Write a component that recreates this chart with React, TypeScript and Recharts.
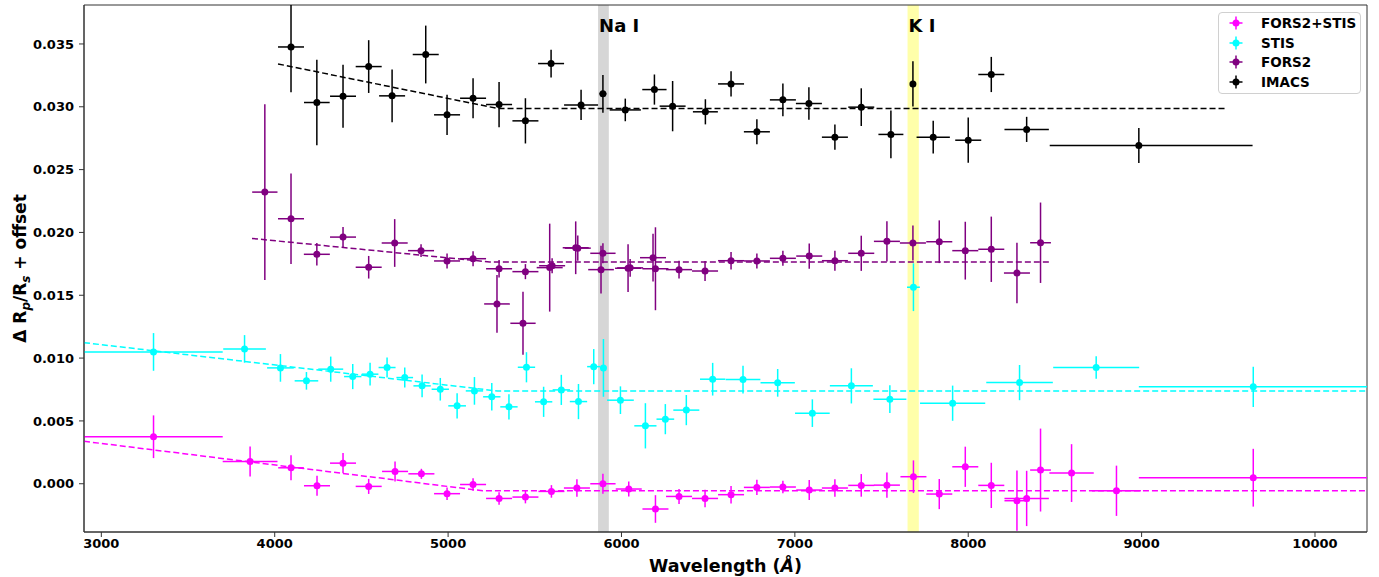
import React from 'react';
import { ComposedChart, Scatter, Line, XAxis, YAxis, ErrorBar, ReferenceArea, Legend } from 'recharts';

type Err = number | [number, number];

// Axis ticks / domains
const xTicks = [3000, 4000, 5000, 6000, 7000, 8000, 9000, 10000];
const yTicks = [0, 0.005, 0.01, 0.015, 0.02, 0.025, 0.03, 0.035];
const xDomain: [number, number] = [2900, 10300];
const yDomain: [number, number] = [-0.00384, 0.0381];

// Highlighted lines
const naBand = [5865, 5927];
const kBand = [7650, 7715];

// FORS2+STIS
const fsWl = [3301, 3858, 4094, 4244, 4394, 4542, 4694, 4846, 4994, 5144, 5294, 5446, 5596, 5743, 5893, 6042, 6196, 6332, 6482, 6632, 6781, 6931, 7083, 7231, 7383, 7531, 7684, 7833, 7983, 8133, 8281, 8337, 8417, 8596, 8855, 9644];
const fsVal = [0.00374, 0.00177, 0.00127, -0.00016, 0.00164, -0.00021, 0.00098, 0.00079, -0.00079, -0.00006, -0.00117, -0.00106, -0.00061, -0.00034, 0.0, -0.00042, -0.00201, -0.00101, -0.00117, -0.00087, -0.00029, -0.00026, -0.0005, -0.00034, -0.00013, -0.00011, 0.00056, -0.00082, 0.00135, -0.00013, -0.00135, -0.00117, 0.00109, 0.00085, -0.00056, 0.00048];
const fsXErr: Err[] = [[401, 399], 158, 74, 75, 75, 75, 75, 75, 75, 75, 75, 75, 75, 75, 73, 75, 75, 75, 75, 75, 75, 75, 75, 75, 75, 75, 75, 75, 75, 75, 72, 128, 60, 128, 141, [660, 656]];
const fsYErr: Err[] = [0.0017, 0.0012, 0.001, 0.0008, 0.0008, 0.0006, 0.0008, 0.0004, 0.0005, 0.0005, 0.0005, 0.0005, 0.0005, 0.0007, 0.0008, 0.0006, 0.0011, 0.0006, 0.0007, 0.0007, 0.0006, 0.0005, 0.0008, 0.0007, 0.0009, 0.001, 0.0013, 0.0012, 0.0016, 0.0018, [0.0024, 0.0024], 0.0022, 0.0033, 0.0023, 0.002, 0.0023];

// STIS
const stWl = [3301, 3826, 4033, 4183, 4323, 4450, 4550, 4648, 4750, 4850, 4955, 5052, 5152, 5252, 5351, 5452, 5551, 5653, 5752, 5840, 5896, 5994, 6138, 6253, 6374, 6526, 6701, 6901, 7101, 7326, 7548, 7684, 7910, 8296, 8738, 9644];
const stVal = [0.01049, 0.01073, 0.00922, 0.00819, 0.00912, 0.00853, 0.00872, 0.00925, 0.00845, 0.00779, 0.00752, 0.0062, 0.00739, 0.00692, 0.00612, 0.00927, 0.00652, 0.00747, 0.00654, 0.00932, 0.00922, 0.00665, 0.00461, 0.00514, 0.00586, 0.00832, 0.00829, 0.00803, 0.00562, 0.00779, 0.00673, 0.01564, 0.00641, 0.00805, 0.00925, 0.00771];
const stXErr: Err[] = [[401, 399], 123, 77, 68, 72, 50, 48, 49, 48, 50, 50, 51, 50, 50, 50, 50, 50, 50, 50, 38, 15, 77, 64, 51, 75, 73, 100, 99, 100, 124, 95, 37, 188, 192, 248, [660, 656]];
const stYErr: Err[] = [0.0015, 0.0011, 0.0011, 0.0007, 0.001, 0.001, 0.0009, 0.0008, 0.0008, 0.0009, 0.0009, 0.001, 0.0011, 0.0011, 0.001, 0.0012, 0.0012, 0.0012, 0.0014, 0.0014, 0.0023, 0.0011, 0.0018, 0.0012, 0.0012, 0.0013, 0.0011, 0.0011, 0.0011, 0.0014, 0.0011, 0.0019, 0.0014, 0.0014, 0.0009, 0.0016];

// FORS2
const f2Wl = [3943, 4094, 4243, 4394, 4542, 4692, 4844, 4994, 5144, 5282, 5294, 5432, 5446, 5586, 5600, 5736, 5748, 5882, 5893, 6038, 6050, 6182, 6196, 6332, 6482, 6632, 6781, 6931, 7083, 7231, 7383, 7531, 7681, 7833, 7983, 8133, 8281, 8417];
const f2Val = [0.02321, 0.02109, 0.01826, 0.01963, 0.01723, 0.01916, 0.01855, 0.01773, 0.01791, 0.01431, 0.01711, 0.01277, 0.01688, 0.0172, 0.01735, 0.01878, 0.01875, 0.01704, 0.01834, 0.01715, 0.01718, 0.01799, 0.01711, 0.01704, 0.01693, 0.01775, 0.01773, 0.01794, 0.01812, 0.01775, 0.01834, 0.01929, 0.01916, 0.01926, 0.01855, 0.01866, 0.01677, 0.01918];
const f2XErr: Err[] = [73, 75, 75, 75, 75, 75, 75, 75, 75, 74, 75, 73, 75, 75, 75, 75, 75, 74, 73, 75, 75, 75, 75, 75, 75, 75, 75, 75, 75, 75, 75, 75, 75, 75, 75, 75, 75, 60];
const f2YErr: Err[] = [0.007, 0.0036, 0.0009, 0.0008, 0.0009, 0.0019, 0.0005, 0.0006, 0.0006, 0.0023, 0.0007, 0.0025, 0.0006, 0.0035, 0.0006, 0.0021, 0.001, 0.0019, 0.0008, 0.0019, 0.0007, 0.0019, 0.0033, 0.0007, 0.0008, 0.0007, 0.0006, 0.0006, 0.001, 0.0008, 0.0014, 0.0016, 0.0014, 0.0017, 0.0023, 0.0026, 0.0024, 0.0032];

// IMACS
const imWl = [4094, 4243, 4394, 4542, 4677, 4871, 4994, 5144, 5294, 5446, 5594, 5767, 5893, 6022, 6190, 6295, 6484, 6632, 6781, 6931, 7081, 7231, 7383, 7554, 7681, 7798, 8000, 8133, 8337, 8984];
const imVal = [0.03476, 0.03034, 0.03084, 0.0332, 0.03087, 0.03416, 0.02936, 0.03068, 0.03018, 0.02888, 0.03344, 0.03015, 0.03103, 0.02975, 0.03137, 0.03005, 0.0296, 0.03182, 0.02801, 0.03055, 0.03026, 0.02758, 0.02997, 0.0278, 0.03182, 0.02758, 0.02734, 0.03257, 0.0282, 0.02692];
const imXErr: Err[] = [75, 74, 75, 75, 75, 75, 75, 75, 75, 75, 75, 98, 20, 90, 70, 75, 72, 75, 75, 75, 75, 75, 75, 72, 15, 96, 75, 75, 128, [514, 656]];
const imYErr: Err[] = [[0.0036, 0.00334], 0.0034, 0.0025, 0.0021, 0.0021, 0.0023, 0.0016, 0.0016, 0.0018, 0.0018, 0.0011, 0.0012, 0.0015, 0.0009, 0.0012, 0.002, 0.001, 0.001, 0.001, 0.0013, 0.0013, 0.001, 0.0015, 0.0019, 0.0018, 0.0013, 0.0018, 0.0014, 0.001, 0.0014];

// Model fits (dashed)
const fitFsWl = [2900, 5200, 10300];
const fitFsVal = [0.00338, -0.00056, -0.00056];
const fitStWl = [2900, 5285, 10300];
const fitStVal = [0.01123, 0.00738, 0.00738];
const fitF2Wl = [3869, 5240, 8477];
const fitF2Val = [0.01952, 0.01765, 0.01765];
const fitImWl = [4019, 5287, 9494];
const fitImVal = [0.03341, 0.02986, 0.02986];

const build = (wl: number[], val: number[], xe: Err[], ye: Err[]) =>
  wl.map((x, i) => ({ x, y: val[i], ex: xe[i], ey: ye[i] }));
const buildFit = (wl: number[], val: number[]) => wl.map((x, i) => ({ x, y: val[i] }));

const series = [
  { name: 'FORS2+STIS', color: '#ff00ff', data: build(fsWl, fsVal, fsXErr, fsYErr), fit: buildFit(fitFsWl, fitFsVal) },
  { name: 'STIS', color: '#00ffff', data: build(stWl, stVal, stXErr, stYErr), fit: buildFit(fitStWl, fitStVal) },
  { name: 'FORS2', color: '#800080', data: build(f2Wl, f2Val, f2XErr, f2YErr), fit: buildFit(fitF2Wl, fitF2Val) },
  { name: 'IMACS', color: '#000000', data: build(imWl, imVal, imXErr, imYErr), fit: buildFit(fitImWl, fitImVal) },
];

const FONT = 'DejaVu Sans, Verdana, sans-serif';
const AXIS = '#333333';

const LegendBox = () => (
  <div
    style={{
      width: 143,
      height: 82,
      boxSizing: 'border-box',
      border: '1px solid #d0d0d0',
      borderRadius: 4,
      background: 'rgba(255,255,255,0.85)',
      fontFamily: FONT,
      fontWeight: 'bold',
      fontSize: 13.5,
      color: '#000',
    }}
  >
    {series.map((s) => (
      <div key={s.name} style={{ height: 19.8, display: 'flex', alignItems: 'center' }}>
        <svg width={35} height={16} style={{ display: 'block' }}>
          <line x1={10.5} x2={23.5} y1={8} y2={8} stroke={s.color} strokeWidth={1.5} />
          <line x1={17} x2={17} y1={1.5} y2={14.5} stroke={s.color} strokeWidth={1.5} />
          <circle cx={17} cy={8} r={3.5} fill={s.color} />
        </svg>
        <span style={{ marginLeft: 7, lineHeight: '16px' }}>{s.name}</span>
      </div>
    ))}
  </div>
);

const bandLabel = (text: string) => (props: any) => {
  const vb = props.viewBox || {};
  return (
    <text x={(vb.x || 0) + 1} y={(vb.y || 0) + 27} fontFamily={FONT} fontWeight="bold" fontSize={18} fill="#000">
      {text}
    </text>
  );
};

const YLabel = (props: any) => {
  const vb = props.viewBox || { x: 0, y: 0, width: 0, height: 0 };
  const cx = vb.x + 26;
  const cy = vb.y + vb.height / 2;
  return (
    <text
      x={cx}
      y={cy}
      transform={`rotate(-90, ${cx}, ${cy})`}
      textAnchor="middle"
      fontFamily={FONT}
      fontWeight="bold"
      fontSize={17}
      fill="#000"
    >
      <tspan>{'Δ R'}</tspan>
      <tspan fontSize={12} fontStyle="italic" dy={4}>p</tspan>
      <tspan dy={-4}>{'/R'}</tspan>
      <tspan fontSize={12} fontStyle="italic" dy={4}>s</tspan>
      <tspan dy={-4}>{' + offset'}</tspan>
    </text>
  );
};

const XLabel = (props: any) => {
  const vb = props.viewBox || { x: 0, y: 0, width: 0, height: 0 };
  return (
    <text
      x={vb.x + vb.width / 2}
      y={vb.y + 40}
      textAnchor="middle"
      fontFamily={FONT}
      fontWeight="bold"
      fontSize={17.5}
      fill="#000"
    >
      <tspan>{'Wavelength ('}</tspan>
      <tspan fontStyle="italic">Å</tspan>
      <tspan>{')'}</tspan>
    </text>
  );
};

export default function App() {
  return (
    <div style={{ position: 'absolute', left: 0, top: 0, width: 1379, height: 577, background: '#fff', fontFamily: FONT }}>
      <ComposedChart width={1379} height={577} margin={{ top: 5, right: 12, left: 0, bottom: 0 }}>
        <XAxis
          type="number"
          dataKey="x"
          domain={xDomain}
          allowDataOverflow
          ticks={xTicks}
          height={45}
          tickSize={5}
          tickMargin={2}
          stroke={AXIS}
          tick={{ fill: '#000', fontSize: 13, fontWeight: 'bold', fontFamily: FONT }}
          tickLine={{ stroke: AXIS }}
          axisLine={{ stroke: AXIS }}
          label={{ content: XLabel }}
        />
        <YAxis
          type="number"
          dataKey="y"
          domain={yDomain}
          allowDataOverflow
          ticks={yTicks}
          width={84}
          tickSize={5}
          tickMargin={5}
          stroke={AXIS}
          tickFormatter={(v: number) => v.toFixed(3)}
          tick={{ fill: '#000', fontSize: 13, fontWeight: 'bold', fontFamily: FONT }}
          tickLine={{ stroke: AXIS }}
          axisLine={{ stroke: AXIS }}
          label={{ content: YLabel }}
        />
        <ReferenceArea x1={naBand[0]} x2={naBand[1]} y1={yDomain[0]} y2={yDomain[1]} fill="#d6d6d6" fillOpacity={1} stroke="none" label={{ content: bandLabel('Na I') }} />
        <ReferenceArea x1={kBand[0]} x2={kBand[1]} y1={yDomain[0]} y2={yDomain[1]} fill="#ffffaa" fillOpacity={1} stroke="none" label={{ content: bandLabel('K I') }} />
        {series.map((s) => (
          <Line
            key={s.name + '-fit'}
            data={s.fit}
            dataKey="y"
            type="linear"
            stroke={s.color}
            strokeWidth={1.5}
            strokeDasharray="6 3"
            dot={false}
            activeDot={false}
            isAnimationActive={false}
            legendType="none"
          />
        ))}
        {series.map((s) => (
          <Scatter
            key={s.name}
            name={s.name}
            data={s.data}
            dataKey="y"
            fill={s.color}
            isAnimationActive={false}
            shape={(p: any) => <circle cx={p.cx} cy={p.cy} r={3.5} fill={s.color} />}
          >
            <ErrorBar dataKey="ey" direction="y" width={0} stroke={s.color} strokeWidth={1.5} isAnimationActive={false} />
            <ErrorBar dataKey="ex" direction="x" width={0} stroke={s.color} strokeWidth={1.5} isAnimationActive={false} />
          </Scatter>
        ))}
        <ReferenceArea x1={xDomain[0]} x2={xDomain[1]} y1={yDomain[0]} y2={yDomain[1]} fill="none" stroke={AXIS} strokeWidth={1} />
        <Legend
          layout="vertical"
          align="center"
          verticalAlign="middle"
          wrapperStyle={{ position: 'absolute', left: 1218, top: 12, width: 143, height: 82 }}
          content={() => <LegendBox />}
        />
      </ComposedChart>
    </div>
  );
}
